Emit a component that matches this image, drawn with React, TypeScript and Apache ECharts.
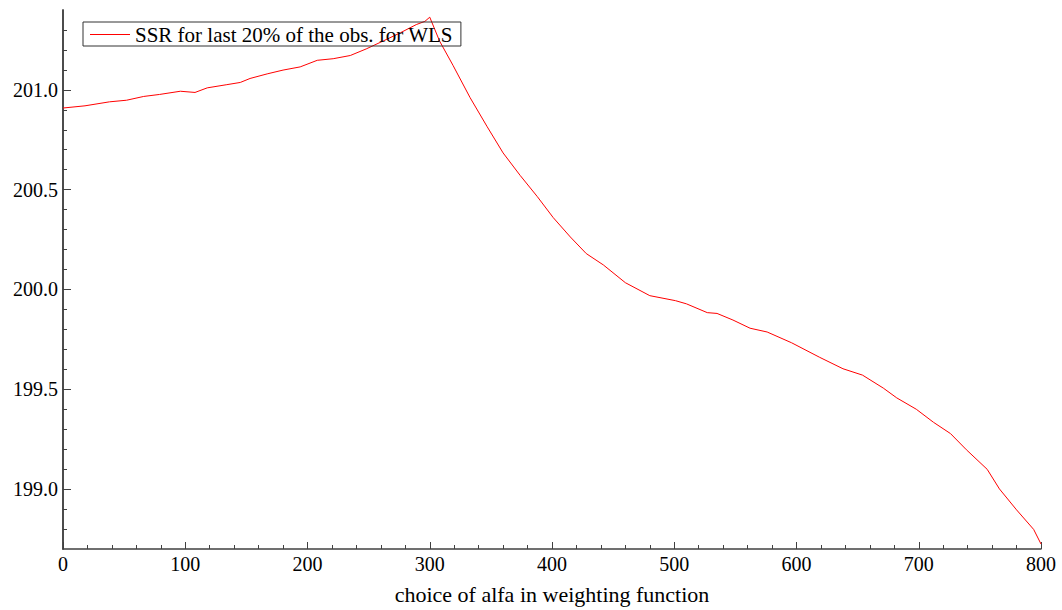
import React, { useEffect, useRef } from "react";
import * as echarts from "echarts";

const xVals = [0, 18, 38, 52, 66, 79, 96, 108, 118, 134, 145, 153, 167, 180, 194, 208, 221, 235, 248, 262, 276, 289, 296, 300,
  308, 319, 333, 347, 360, 374, 388, 401, 415, 428, 442, 460, 480, 501, 510, 527, 535, 548, 562, 576, 596, 619, 638, 654,
  671, 682, 698, 712, 726, 739, 756, 766, 780, 794, 800];
const yVals = [200.909, 200.92, 200.94, 200.948, 200.967, 200.977, 200.993, 200.987, 201.01, 201.026, 201.037, 201.057,
  201.08, 201.099, 201.115, 201.148, 201.156, 201.172, 201.205, 201.245, 201.286, 201.327, 201.343, 201.364,
  201.245, 201.123, 200.961, 200.815, 200.684, 200.571, 200.465, 200.36, 200.263, 200.18, 200.123, 200.034, 199.969,
  199.944, 199.928, 199.884, 199.88, 199.847, 199.806, 199.787, 199.733, 199.66, 199.603, 199.571, 199.506, 199.457,
  199.4, 199.335, 199.278, 199.197, 199.099, 199.001, 198.896, 198.798, 198.725];

const yMajorTicks = [199.0, 199.5, 200.0, 200.5, 201.0];
const yMinorTicks = [198.8, 198.9, 199.1, 199.2, 199.3, 199.4, 199.6, 199.7, 199.8, 199.9, 200.1, 200.2, 200.3, 200.4,
  200.6, 200.7, 200.8, 200.9, 201.1, 201.2, 201.3];
const seriesName = "SSR for last 20% of the obs. for WLS";
const xName = "choice of alfa in weighting function";

const FONT = "'Liberation Serif', 'Times New Roman', serif";
const AXIS_COLOR = "#404040";

export default function App() {
  const ref = useRef<HTMLDivElement>(null);
  useEffect(() => {
    if (!ref.current) return;
    const chart = echarts.init(ref.current, undefined, { renderer: "svg" });
    const yBase = {
      type: "value",
      min: 198.7,
      max: 201.4,
      position: "left",
      splitLine: { show: false },
      axisLine: { show: true, lineStyle: { color: AXIS_COLOR, width: 1.5 } },
    };
    chart.setOption({
      animation: false,
      backgroundColor: "#ffffff",
      grid: { left: 63, right: 21, top: 10, bottom: 47, containLabel: false },
      legend: {
        show: true,
        left: 83,
        top: 22,
        orient: "horizontal",
        padding: [2, 8, 1, 7],
        icon: "rect",
        itemWidth: 40,
        itemHeight: 1,
        itemGap: 10,
        borderColor: "#333333",
        borderWidth: 1,
        backgroundColor: "transparent",
        itemStyle: { color: "#ff0000" },
        textStyle: { fontFamily: FONT, fontSize: 21, color: "#000" },
        data: [seriesName],
      },
      xAxis: {
        type: "value",
        min: 0,
        max: 800,
        interval: 100,
        name: xName,
        nameLocation: "middle",
        nameGap: 34,
        nameTextStyle: { fontFamily: FONT, fontSize: 22, color: "#000" },
        splitLine: { show: false },
        axisLine: { show: true, onZero: false, lineStyle: { color: AXIS_COLOR, width: 1.5 } },
        axisTick: { show: true, inside: true, length: 7, lineStyle: { color: AXIS_COLOR, width: 1 } },
        minorTick: { show: true, splitNumber: 5, length: 4, lineStyle: { color: AXIS_COLOR, width: 1 } },
        axisLabel: { fontFamily: FONT, fontSize: 20, color: "#000", margin: 5 },
      },
      yAxis: [
        {
          ...yBase,
          axisTick: { show: true, inside: true, length: 8, customValues: yMajorTicks, lineStyle: { color: AXIS_COLOR, width: 1 } },
          axisLabel: {
            show: true,
            customValues: yMajorTicks,
            fontFamily: FONT,
            fontSize: 20,
            color: "#000",
            margin: 5,
            formatter: (v: number) => v.toFixed(1),
          },
        },
        {
          ...yBase,
          axisTick: { show: true, inside: true, length: 4, customValues: yMinorTicks, lineStyle: { color: AXIS_COLOR, width: 1 } },
          axisLabel: { show: false },
        },
      ],
      series: [
        {
          name: seriesName,
          type: "line",
          yAxisIndex: 0,
          data: xVals.map((x, i) => [x, yVals[i]]),
          showSymbol: false,
          symbol: "none",
          lineStyle: { color: "#ff0000", width: 1 },
          itemStyle: { color: "#ff0000" },
        },
      ],
    });
    return () => chart.dispose();
  }, []);
  return <div ref={ref} style={{ width: 1062, height: 610, position: "absolute", left: 0, top: 0 }} />;
}
